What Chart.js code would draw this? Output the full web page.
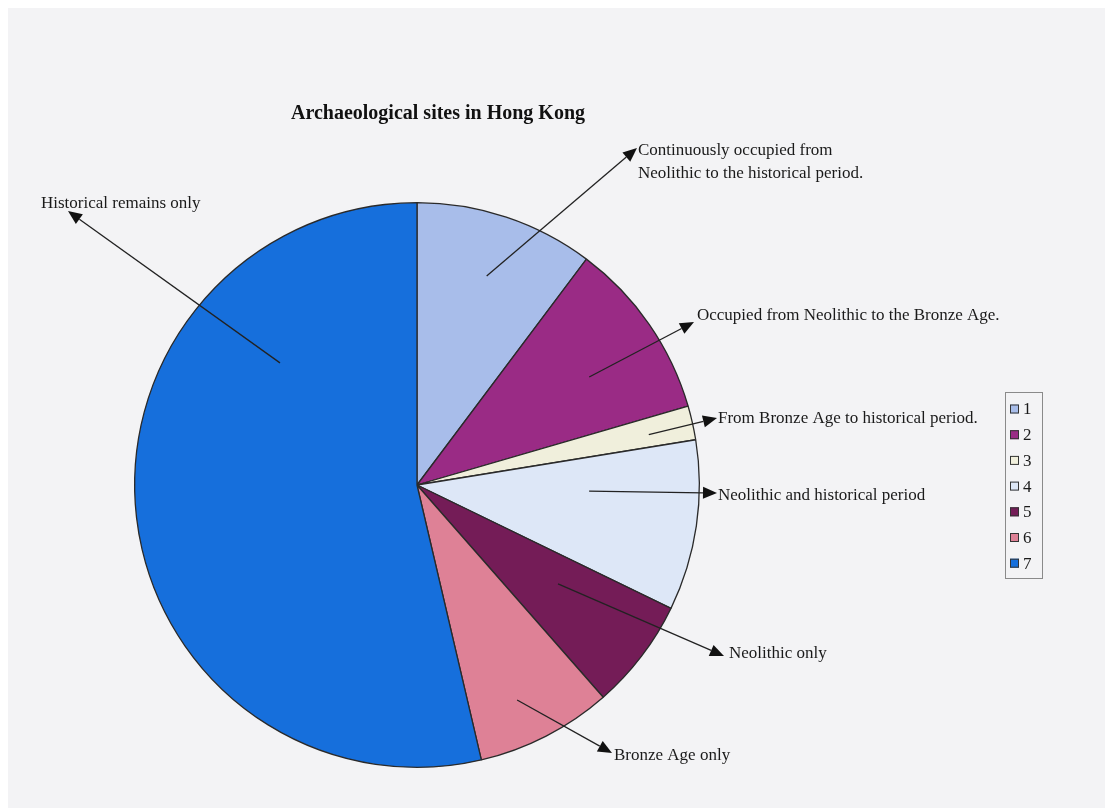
<!DOCTYPE html>
<html>
<head>
<meta charset="utf-8">
<title>Archaeological sites in Hong Kong</title>
<script src="https://cdn.jsdelivr.net/npm/chart.js@4.4.1/dist/chart.umd.min.js"></script>
<style>
    html, body { margin: 0; padding: 0; background: #ffffff; }
    #contenedor { position: relative; width: 1105px; height: 808px; }
</style>
</head>
<body>
<div id="contenedor">
    <canvas id="graficapie"></canvas>
</div>
<script>
// Datos del gráfico
const chartTitle = 'Archaeological sites in Hong Kong';
const categories = ['1', '2', '3', '4', '5', '6', '7'];
const siteCounts = [21, 21, 4, 20, 13, 16, 110];
const descriptions = [
    ['Continuously occupied from', 'Neolithic to the historical period.'],
    ['Occupied from Neolithic to the Bronze Age.'],
    ['From Bronze Age to historical period.'],
    ['Neolithic and historical period'],
    ['Neolithic only'],
    ['Bronze Age only'],
    ['Historical remains only']
];
const sliceColors = ['#a8bdea', '#9a2b85', '#f0efdc', '#dde7f7', '#741c57', '#de8196', '#166fdc'];

// Posición de las flechas y textos (solo diseño)
// t = fracción del ángulo del sector, r = fracción del radio
const arrowLayout = [
    { t: 0.50, r: 0.78, tipX: 637, tipY: 148, textX: 638, textY: 155 },
    { t: 0.57, r: 0.72, tipX: 694, tipY: 322, textX: 697, textY: 320 },
    { t: 0.57, r: 0.84, tipX: 717, tipY: 418, textX: 718, textY: 423 },
    { t: 0.32, r: 0.61, tipX: 717, tipY: 493, textX: 718, textY: 500 },
    { t: 0.40, r: 0.61, tipX: 724, tipY: 656, textX: 729, textY: 658 },
    { t: 0.58, r: 0.84, tipX: 612, tipY: 753, textX: 614, textY: 760 },
    { t: 0.75, r: 0.65, tipX: 68,  tipY: 211, textX: 41,  textY: 208 }
];

const fuente = '"Liberation Serif", "Times New Roman", serif';

// Fondo tipo papel escaneado, título, flechas y leyenda
const decoraciones = {
    id: 'decoraciones',
    beforeDraw(chart) {
        const ctx = chart.ctx;
        ctx.save();
        ctx.fillStyle = '#f3f3f5';
        ctx.fillRect(8, 8, chart.width - 8, chart.height - 8);
        ctx.restore();
    },
    afterDatasetsDraw(chart) {
        const ctx = chart.ctx;
        const meta = chart.getDatasetMeta(0);
        ctx.save();

        // Título
        ctx.fillStyle = '#111';
        ctx.font = 'bold 20px ' + fuente;
        ctx.textAlign = 'center';
        ctx.textBaseline = 'alphabetic';
        ctx.fillText(chartTitle, 438, 119);

        // Flechas con sus textos
        meta.data.forEach((arc, i) => {
            const lay = arrowLayout[i];
            const ang = arc.startAngle + lay.t * (arc.endAngle - arc.startAngle);
            const sx = arc.x + Math.cos(ang) * arc.outerRadius * lay.r;
            const sy = arc.y + Math.sin(ang) * arc.outerRadius * lay.r;
            const dir = Math.atan2(lay.tipY - sy, lay.tipX - sx);
            const largo = 14, ancho = 6;
            const bx = lay.tipX - Math.cos(dir) * largo;
            const by = lay.tipY - Math.sin(dir) * largo;

            ctx.strokeStyle = '#222';
            ctx.lineWidth = 1.3;
            ctx.beginPath();
            ctx.moveTo(sx, sy);
            ctx.lineTo(bx, by);
            ctx.stroke();

            ctx.fillStyle = '#111';
            ctx.beginPath();
            ctx.moveTo(lay.tipX, lay.tipY);
            ctx.lineTo(bx + Math.sin(dir) * ancho, by - Math.cos(dir) * ancho);
            ctx.lineTo(bx - Math.sin(dir) * ancho, by + Math.cos(dir) * ancho);
            ctx.closePath();
            ctx.fill();

            ctx.fillStyle = '#1a1a1a';
            ctx.font = '17px ' + fuente;
            ctx.textAlign = 'left';
            descriptions[i].forEach((linea, k) => {
                ctx.fillText(linea, lay.textX, lay.textY + k * 23);
            });
        });

        // Leyenda
        const lx = 1005, ly = 392, lw = 37, lh = 186, paso = 25.7;
        ctx.strokeStyle = '#8a8a8a';
        ctx.lineWidth = 1;
        ctx.strokeRect(lx + 0.5, ly + 0.5, lw, lh);
        ctx.font = '17px ' + fuente;
        ctx.textBaseline = 'middle';
        chart.data.labels.forEach((lab, i) => {
            const cy = ly + 17 + i * paso;
            ctx.fillStyle = chart.data.datasets[0].backgroundColor[i];
            ctx.fillRect(lx + 5, cy - 4.5, 9, 9);
            ctx.strokeStyle = '#333';
            ctx.strokeRect(lx + 5.5, cy - 4, 8, 8);
            ctx.fillStyle = '#1a1a1a';
            ctx.fillText(lab, lx + 18, cy + 1);
        });
        ctx.restore();
    }
};

function createPieChart() {
    const ctx = document.getElementById('graficapie').getContext('2d');
    new Chart(ctx, {
        type: 'pie',
        data: {
            labels: categories,
            datasets: [{
                data: siteCounts,
                backgroundColor: sliceColors,
                borderColor: '#2a2a2a',
                borderWidth: 1.3
            }]
        },
        options: {
            responsive: true,
            maintainAspectRatio: false,
            animation: false,
            layout: {
                padding: { left: 134, top: 202, right: 405, bottom: 40 }
            },
            plugins: {
                legend: { display: false },
                tooltip: { enabled: false }
            }
        },
        plugins: [decoraciones]
    });
}

createPieChart();
</script>
</body>
</html>
